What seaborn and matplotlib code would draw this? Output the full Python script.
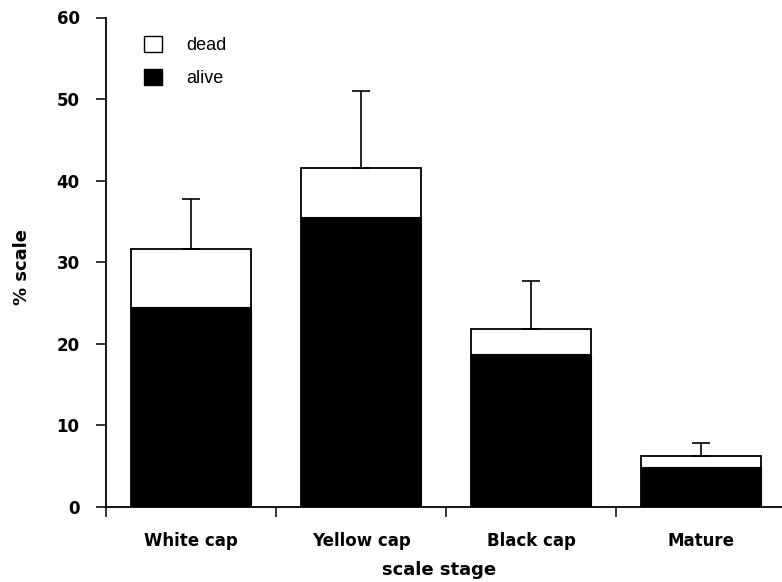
import matplotlib
matplotlib.use("Agg")
import matplotlib.pyplot as plt
from matplotlib.patches import Patch
from matplotlib.ticker import FixedLocator
import seaborn as sns
import numpy as np

# values
stages = ["White cap", "Yellow cap", "Black cap", "Mature"]
total = [31.6, 41.5, 21.8, 6.2]   # dead + alive (top of white bar)
alive = [24.5, 35.5, 18.8, 4.9]
err_up = [6.1, 9.5, 5.9, 1.7]

sns.set_style("ticks")
plt.rcParams['font.family'] = ['DejaVu Sans']
plt.rcParams.update({"text.color": "black", "axes.labelcolor": "black",
                     "xtick.color": "black", "ytick.color": "black"})

fig = plt.figure(figsize=(7.82, 5.82), dpi=100)
ax = fig.add_axes([106 / 782, 75 / 582, 680 / 782, 489.5 / 582])

sns.barplot(x=stages, y=total, color="white", edgecolor="black",
            linewidth=1.3, width=0.71, ax=ax, errorbar=None)
sns.barplot(x=stages, y=alive, color="black", edgecolor="black",
            linewidth=0.8, width=0.71, ax=ax, errorbar=None)

xpos = np.arange(len(stages))
ax.errorbar(xpos, total, yerr=[np.zeros(len(err_up)), err_up], fmt="none",
            ecolor="black", elinewidth=1.2, capsize=6.5, capthick=1.2, zorder=1)

ax.set_xlim(-0.5, 3.5)
ax.set_ylim(0, 60)
sns.despine(ax=ax)
for sp in ["left", "bottom"]:
    ax.spines[sp].set_linewidth(1.3)
    ax.spines[sp].set_color("black")

ax.set_yticks([0, 10, 20, 30, 40, 50, 60])
ax.tick_params(axis="y", direction="out", length=7, width=1.1, pad=12,
               labelsize=12, colors="black")
for lab in ax.get_yticklabels():
    lab.set_fontweight("bold")

# category labels at centres, ticks at boundaries
ax.set_xticks(xpos)
ax.set_xticklabels(stages, fontsize=12, fontweight="bold", color="black")
ax.tick_params(axis="x", which="major", length=0, pad=18)
ax.xaxis.set_minor_locator(FixedLocator([-0.5, 0.5, 1.5, 2.5]))
ax.tick_params(axis="x", which="minor", direction="out", length=7, width=1.1)

ax.set_xlabel("scale stage", fontsize=13, fontweight="bold", color="black")
ax.xaxis.set_label_coords(0.49, -0.11)
ax.set_ylabel("% scale", fontsize=13, fontweight="bold", color="black")
ax.yaxis.set_label_coords(-0.11, 0.49)

handles = [Patch(facecolor="white", edgecolor="black", linewidth=1.0, label="dead"),
           Patch(facecolor="black", edgecolor="black", linewidth=1.0, label="alive")]
ax.legend(handles=handles, loc="upper left", bbox_to_anchor=(0.043, 0.981),
          frameon=False, borderpad=0, handlelength=1.0, handleheight=1.0,
          handletextpad=1.3, labelspacing=0.8,
          prop={"family": "Liberation Sans", "size": 13})

fig.savefig("out.png", dpi=100)
